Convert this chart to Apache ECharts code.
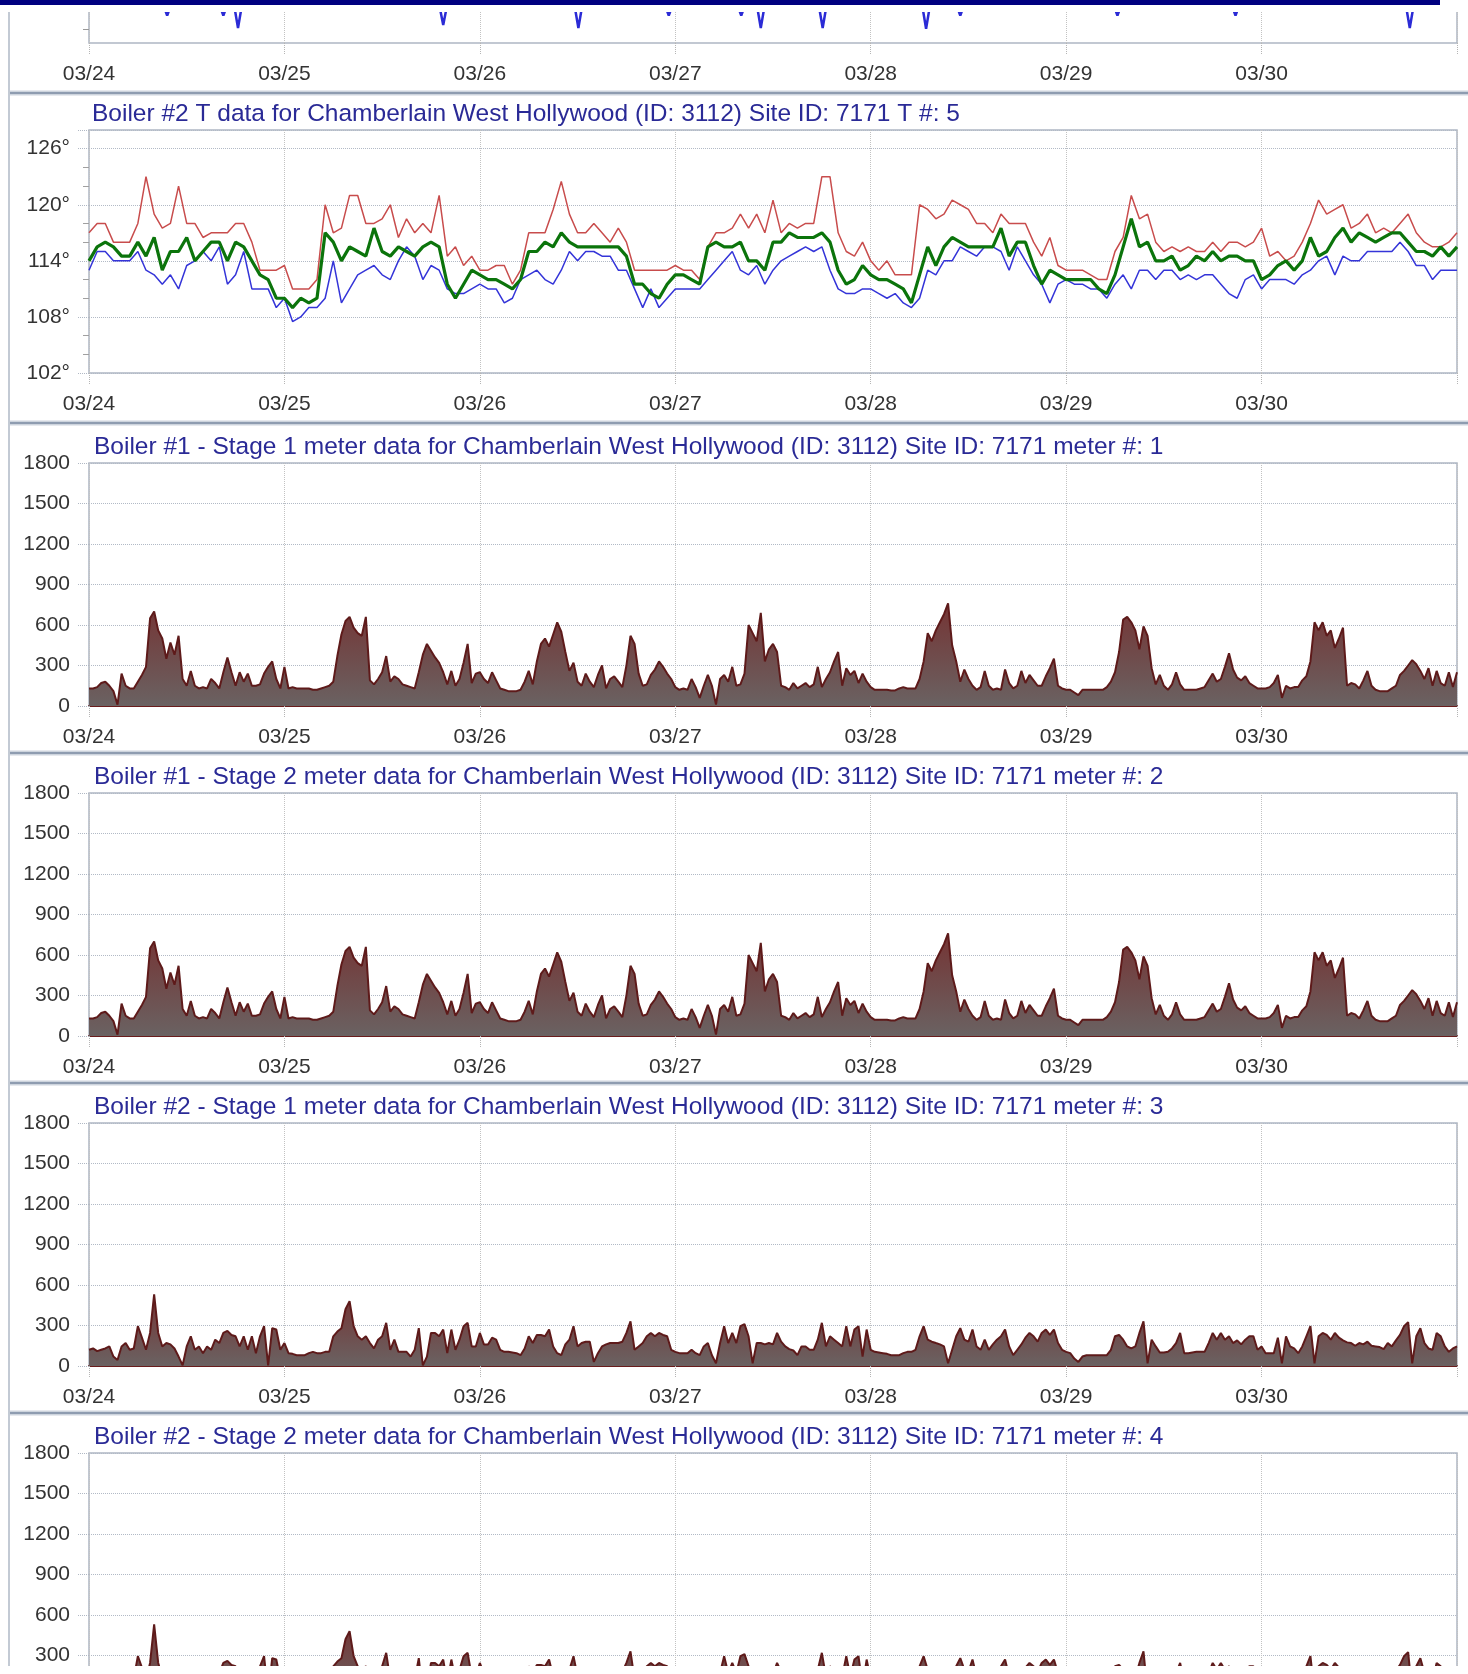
<!DOCTYPE html>
<html>
<head>
<meta charset="utf-8">
<script src="https://cdn.jsdelivr.net/npm/echarts@6.0.0/dist/echarts.min.js"></script>
<style>
  html, body { margin: 0; padding: 0; background: #fff; }
  #page { width: 1468px; height: 1666px; overflow: hidden; }
  #chart { width: 1468px; height: 1730px; }
</style>
</head>
<body>
<div id="page"><div id="chart"></div></div>
<script>
const FONT = '"Liberation Sans", Arial, sans-serif'

// x axis: one tick per day, hours from 03/24 00:00
const dayLabels = ['03/24', '03/25', '03/26', '03/27', '03/28', '03/29', '03/30']

const site = 'for Chamberlain West Hollywood (ID: 3112) Site ID: 7171'
const panelTitles = [
  'Boiler #2 T data ' + site + ' T #: 5',
  'Boiler #1 - Stage 1 meter data ' + site + ' meter #: 1',
  'Boiler #1 - Stage 2 meter data ' + site + ' meter #: 2',
  'Boiler #2 - Stage 1 meter data ' + site + ' meter #: 3',
  'Boiler #2 - Stage 2 meter data ' + site + ' meter #: 4'
]

// previous chart, scrolled almost out of view: only its lowest dips show
const topDipHours = [9.6, 16.5, 18.3, 43.5, 60.1, 71.2, 80.1, 82.5, 90.1, 102.8, 107.0, 126.3, 140.8, 162.2]
const topDipValues = [64, 64, 35, 42, 35, 64, 64, 35, 35, 33, 64, 64, 64, 35]
const topBase = 90

// hourly temperatures (°F), 03/24 00:00 .. 03/31 00:00
const tempRed = [
  117, 118, 118, 116, 116, 116, 118, 123, 119, 117.5,
  118, 122, 118, 118, 116.5, 117, 117, 117, 118, 118,
  116, 113, 113, 113, 113.5, 111, 111, 111, 112, 120,
  117, 117.5, 121, 121, 118, 118, 118.5, 120, 116.5, 118.5,
  117, 118, 117, 121, 114.5, 115.5, 113.5, 114.5, 113, 113,
  113.5, 113.5, 111.5, 113, 117, 117, 117, 119.5, 122.5, 119,
  117, 117, 118, 117, 116, 117.5, 116, 113, 113, 113,
  113, 113, 113.5, 113, 113, 112, 115.5, 117, 117, 117.5,
  119, 117.5, 119, 117, 120.5, 117, 118, 117.5, 118, 118,
  123, 123, 117, 115, 114.5, 116, 114, 113, 114, 112.5,
  112.5, 112.5, 120, 119.5, 118.5, 119, 120.5, 120, 119.5, 118,
  118, 117, 119, 118, 118, 118, 116, 114.5, 116.5, 113.5,
  113, 113, 113, 112.5, 112, 112, 115, 116.5, 121, 118.5,
  119, 116, 115, 115.5, 115, 115.5, 115, 115, 116, 115,
  116, 116, 115.5, 116, 117.5, 114.5, 115, 114, 114.5, 116,
  118, 120.5, 119, 119.5, 120, 117.5, 118, 119, 117, 117.5,
  117, 118, 119, 117, 116, 115.5, 115.5, 116, 117
]
const tempGreen = [
  114, 115.5, 116, 115.5, 114.5, 114.5, 116, 114.5, 116.5, 113,
  115, 115, 116.5, 114, 115, 116, 116, 114, 116, 115.5,
  114, 112.5, 112, 110, 110, 109, 110, 109.5, 110, 117,
  116, 114, 115.5, 115, 114.5, 117.5, 115, 114.5, 115.5, 115,
  114.5, 115.5, 116, 115.5, 111.5, 110, 111.5, 113, 112.5, 112,
  112, 111.5, 111, 112, 115, 115, 116, 115.5, 117, 116,
  115.5, 115.5, 115.5, 115.5, 115.5, 115.5, 114.5, 111.5, 111.5, 110.5,
  110, 111.5, 112.5, 112.5, 112, 111.5, 115.5, 116, 115.5, 115.5,
  116, 114, 114, 113, 116, 116, 117, 116.5, 116.5, 116.5,
  117, 116, 113, 111.5, 112, 113.5, 112.5, 112, 112, 111.5,
  111, 109.5, 112.5, 115.5, 113.5, 115.5, 116.5, 116, 115.5, 115.5,
  115.5, 115.5, 117.5, 114.5, 116, 116, 113.5, 111.5, 113, 112.5,
  112, 112, 112, 112, 111, 110.5, 112.5, 115.5, 118.5, 115.5,
  116, 114, 114, 114.5, 113, 113.5, 114.5, 114, 115, 114,
  114.5, 114.5, 114, 114, 112, 112.5, 113.5, 114, 113, 114,
  116.5, 114.5, 115, 116.5, 117.5, 116, 117, 116.5, 116, 116.5,
  117, 117, 116, 115, 115, 114.5, 115.5, 114.5, 115.5
]
const tempBlue = [
  113, 115, 115, 114, 114, 114, 115, 113, 112.5, 111.5,
  112.5, 111, 113.5, 114, 115, 114, 115.5, 111.5, 112.5, 115,
  111, 111, 111, 109, 110, 107.5, 108, 109, 109, 110,
  114, 109.5, 111, 112.5, 113, 113.5, 112.5, 112, 114, 115.5,
  114.5, 112, 113.5, 113, 111, 110.5, 110.5, 111, 111.5, 111,
  111, 109.5, 110, 112, 112.5, 113, 112, 111.5, 113, 115,
  114, 115, 115, 114.5, 114.5, 113, 113, 111, 109, 111,
  109, 110, 111, 111, 111, 111, 112, 113, 114, 115,
  113, 112.5, 113.5, 111.5, 113, 114, 114.5, 115, 115.5, 115,
  115.5, 113, 111, 110.5, 110.5, 111, 111, 110.5, 110, 110.5,
  109.5, 109, 110, 113, 112.5, 114, 114, 115.5, 115, 114.5,
  115.5, 115.5, 115, 113, 115.5, 114, 112.5, 111.5, 109.5, 111.5,
  112, 111.5, 111.5, 111, 111, 110, 111.5, 112.5, 111, 113,
  113, 112, 113, 113, 112, 112.5, 112, 112.5, 112.5, 111.5,
  110.5, 110, 112, 112.5, 111, 112, 112, 112, 111.5, 112.5,
  113, 114, 114.5, 112.5, 114.5, 114, 114, 115, 115, 115,
  115, 116, 115, 113.5, 113.5, 112, 113, 113, 113
]

// half-hourly meter readings, 03/24 00:00 .. 03/31 00:00 (one row = 12 h)
const boiler1Stage1 = [
  130, 130, 140, 170, 180, 150, 110, 10, 240, 150, 130, 130, 180, 230, 290, 650, 700, 560, 500, 350, 470, 380, 520, 200,
  150, 260, 150, 130, 140, 130, 200, 170, 130, 250, 360, 250, 150, 250, 180, 240, 150, 150, 160, 240, 290, 330, 200, 130,
  290, 130, 140, 130, 130, 130, 130, 120, 120, 130, 140, 150, 180, 370, 530, 630, 660, 580, 540, 520, 660, 190, 160, 200,
  250, 370, 180, 220, 200, 160, 150, 140, 130, 250, 380, 460, 410, 360, 320, 250, 160, 260, 150, 200, 320, 460, 170, 240,
  250, 200, 170, 250, 190, 130, 120, 110, 110, 110, 120, 180, 260, 160, 330, 460, 500, 440, 530, 620, 550, 400, 260, 320,
  180, 150, 240, 180, 140, 230, 300, 130, 200, 220, 180, 140, 300, 520, 460, 240, 150, 160, 230, 270, 330, 290, 240, 200,
  140, 120, 130, 120, 200, 140, 60, 150, 230, 150, 10, 200, 230, 180, 290, 150, 160, 240, 600, 540, 480, 690, 330, 420,
  460, 400, 150, 140, 120, 170, 130, 150, 170, 140, 160, 290, 140, 200, 250, 330, 400, 150, 280, 230, 260, 170, 240, 180,
  140, 120, 120, 120, 120, 115, 115, 130, 140, 130, 130, 130, 200, 330, 540, 480, 560, 620, 680, 760, 450, 330, 180, 270,
  200, 150, 120, 140, 260, 150, 120, 130, 120, 270, 170, 130, 150, 260, 170, 230, 190, 150, 150, 220, 280, 350, 150, 130,
  120, 120, 100, 80, 120, 120, 120, 120, 120, 120, 140, 180, 250, 400, 640, 660, 620, 560, 420, 590, 520, 280, 160, 230,
  150, 120, 160, 250, 160, 120, 120, 120, 120, 130, 140, 190, 240, 180, 200, 290, 390, 270, 210, 190, 220, 170, 150, 130,
  130, 130, 140, 170, 230, 60, 150, 130, 140, 140, 190, 220, 330, 620, 560, 620, 520, 560, 430, 500, 580, 150, 170, 160,
  130, 190, 260, 150, 120, 110, 110, 110, 130, 150, 230, 260, 300, 340, 310, 260, 200, 280, 150, 260, 170, 150, 250, 140,
  250
]
// stage 2 of boiler #1 reads the same as stage 1
const boiler1Stage2 = boiler1Stage1.slice()

const boiler2Stage1 = [
  120, 130, 110, 120, 130, 145, 70, 45, 145, 170, 120, 130, 295, 210, 120, 245, 530, 245, 145, 170, 160, 130, 70, 5,
  145, 220, 120, 145, 95, 145, 120, 195, 170, 245, 260, 230, 220, 145, 220, 120, 220, 95, 220, 295, 5, 280, 270, 120,
  170, 95, 90, 80, 80, 80, 95, 105, 95, 95, 105, 105, 220, 255, 280, 420, 480, 295, 220, 195, 220, 170, 130, 195,
  220, 320, 120, 195, 105, 105, 105, 70, 120, 280, 5, 70, 245, 245, 220, 270, 95, 270, 120, 195, 295, 320, 145, 145,
  245, 160, 160, 210, 195, 120, 105, 105, 100, 95, 80, 130, 220, 170, 230, 230, 220, 270, 145, 95, 80, 160, 195, 295,
  145, 170, 180, 180, 30, 95, 145, 160, 170, 170, 170, 180, 245, 330, 120, 145, 170, 220, 245, 220, 245, 230, 220, 120,
  105, 95, 95, 95, 120, 95, 80, 145, 170, 80, 20, 170, 295, 170, 245, 170, 295, 310, 220, 20, 170, 170, 160, 170,
  160, 245, 180, 145, 125, 115, 80, 145, 145, 120, 120, 195, 320, 145, 220, 195, 170, 145, 295, 145, 270, 295, 70, 270,
  120, 105, 100, 95, 90, 80, 80, 80, 95, 105, 105, 120, 220, 295, 195, 180, 170, 160, 145, 20, 120, 220, 280, 195,
  180, 270, 145, 120, 195, 120, 160, 195, 220, 270, 145, 80, 120, 160, 210, 245, 220, 180, 245, 270, 230, 270, 170, 120,
  105, 95, 55, 30, 70, 80, 80, 80, 80, 80, 80, 120, 220, 230, 195, 145, 130, 145, 245, 330, 20, 195, 145, 100,
  100, 105, 130, 170, 245, 95, 95, 100, 105, 105, 105, 170, 245, 195, 245, 195, 220, 170, 190, 160, 195, 220, 220, 120,
  145, 95, 95, 95, 210, 20, 220, 145, 130, 95, 145, 220, 295, 20, 220, 245, 230, 195, 245, 210, 190, 175, 170, 150,
  170, 160, 180, 150, 145, 140, 125, 170, 145, 190, 230, 295, 325, 20, 220, 280, 170, 130, 120, 245, 220, 145, 105, 130,
  145
]
// stage 2 of boiler #2 reads the same as stage 1
const boiler2Stage2 = boiler2Stage1.slice()

const meterSeries = [boiler1Stage1, boiler1Stage2, boiler2Stage1, boiler2Stage2]

// ---- layout ----
const PLOT_LEFT = 89
const PLOT_W = 1368
const meterTops = [463, 793, 1123, 1453]
const titleTops = [102, 435, 765, 1095, 1425]
const titleLefts = [92, 94, 94, 94, 94]
const separatorYs = [93, 423, 753, 1083, 1413]

const axisText = { color: '#333', fontSize: 21, fontFamily: FONT }
const dotted = c => ({ color: c, type: 'dotted', width: 1 })
// outerBoundsMode none: keep grids where they are, even if labels run past the page
const frame = { show: true, borderColor: '#aeb7c4', borderWidth: 1.5, backgroundColor: '#fff', outerBoundsMode: 'none' }

const grids = [
  { left: PLOT_LEFT, width: PLOT_W, top: 0, height: 43, ...frame },
  { left: PLOT_LEFT, width: PLOT_W, top: 130, height: 243, ...frame },
  ...meterTops.map(t => ({ left: PLOT_LEFT, width: PLOT_W, top: t, height: 243, ...frame }))
]

const xAxes = grids.map((g, i) => ({
  type: 'value', gridIndex: i, min: 0, max: 168, interval: 24,
  axisLine: { show: i >= 2, lineStyle: { color: '#6a1c1c', width: 2 } },
  axisTick: { show: true, length: 12, lineStyle: dotted('#b5b5b5') },
  axisLabel: { ...axisText, margin: 21, formatter: v => dayLabels[v / 24] || '' },
  splitLine: { show: true, lineStyle: dotted('#c2c2c2') }
}))

const yAxes = [
  {
    type: 'value', gridIndex: 0, min: 0, max: 100,
    axisLine: { show: false },
    axisTick: { show: true, customValues: [32], length: 6, lineStyle: { color: '#999' } },
    axisLabel: { show: false },
    splitLine: { show: false }
  },
  {
    type: 'value', gridIndex: 1, min: 102, max: 128, interval: 6,
    axisLine: { show: false },
    axisTick: { show: true, length: 12, lineStyle: dotted('#b0b8c4') },
    minorTick: { show: true, splitNumber: 3, length: 6, lineStyle: { color: '#a0a0a0' } },
    axisLabel: { ...axisText, margin: 19, showMaxLabel: false, formatter: v => v + '°' },
    splitLine: { lineStyle: dotted('#b2bac6') }
  },
  ...meterTops.map((t, k) => ({
    type: 'value', gridIndex: k + 2, min: 0, max: 1800, interval: 300,
    axisLine: { show: false },
    axisTick: { show: true, length: 12, lineStyle: dotted('#b0b8c4') },
    axisLabel: { ...axisText, margin: 19, formatter: v => String(v) },
    splitLine: { lineStyle: dotted('#b2bac6') }
  }))
]

// top strip data: baseline hidden under the header, dips hang into view
const topData = [[0, topBase]]
topDipHours.forEach((h, k) => {
  topData.push([h - 0.5, topBase], [h, topDipValues[k]], [h + 0.5, topBase])
})
topData.push([168, topBase])

const hourly = arr => arr.map((v, h) => [h, v])
const halfHourly = arr => arr.map((v, i) => [i / 2, v])

const tempLine = (data, color, width) => ({
  type: 'line', xAxisIndex: 1, yAxisIndex: 1, data: hourly(data),
  showSymbol: false, silent: true, lineStyle: { color, width }
})

const series = [
  {
    type: 'line', xAxisIndex: 0, yAxisIndex: 0, data: topData,
    showSymbol: false, silent: true, lineStyle: { color: '#2b2bd6', width: 2.5 }
  },
  tempLine(tempRed, '#c84c4c', 1.5),
  tempLine(tempBlue, '#3434d8', 1.5),
  tempLine(tempGreen, '#0b740b', 3.2),
  ...meterSeries.map((arr, k) => ({
    type: 'line', xAxisIndex: k + 2, yAxisIndex: k + 2, data: halfHourly(arr),
    showSymbol: false, silent: true,
    lineStyle: { color: '#5e1a1a', width: 2 },
    areaStyle: {
      opacity: 1,
      color: new echarts.graphic.LinearGradient(0, 0, 0, 1, [
        { offset: 0, color: '#753434' },
        { offset: 1, color: '#6a6262' }
      ])
    }
  }))
]

const graphics = [
  { type: 'rect', z: 50, shape: { x: 8, y: 0, width: 2, height: 1730 }, style: { fill: '#c3cad4' } },
  ...separatorYs.map(y => ({
    type: 'group', z: 50,
    children: [
      { type: 'rect', shape: { x: 9, y: y - 2.5, width: 1459, height: 5 }, style: { fill: '#cdd4dd' } },
      { type: 'rect', shape: { x: 9, y: y - 1, width: 1459, height: 2 }, style: { fill: '#8e9cb0' } }
    ]
  })),
  // page header covering the scrolled chart
  { type: 'rect', z: 100, shape: { x: 0, y: 0, width: 1468, height: 12 }, style: { fill: '#fff' } },
  { type: 'rect', z: 101, shape: { x: 0, y: 0, width: 1440, height: 5 }, style: { fill: '#000080' } }
]

const chart = echarts.init(document.getElementById('chart'))
chart.setOption({
  animation: false,
  backgroundColor: '#fff',
  title: panelTitles.map((t, k) => ({
    text: t, left: titleLefts[k], top: titleTops[k], padding: 0,
    textStyle: { color: '#2a2a96', fontSize: 24.5, fontWeight: 'normal', fontFamily: FONT }
  })),
  grid: grids,
  xAxis: xAxes,
  yAxis: yAxes,
  series,
  graphic: graphics
})
</script>
</body>
</html>
